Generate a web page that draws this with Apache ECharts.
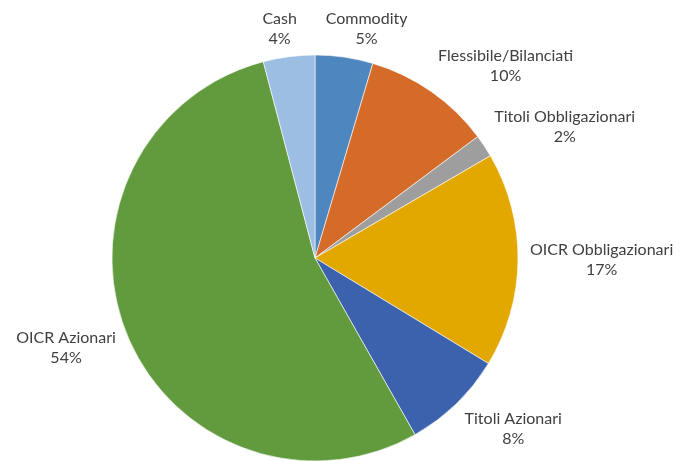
<!DOCTYPE html>
<html>
<head>
<meta charset="utf-8">
<script src="https://cdn.jsdelivr.net/npm/echarts@6/dist/echarts.min.js"></script>
<style>
html,body{margin:0;padding:0;background:#fff;}
#chart{width:681px;height:461px;}
</style>
</head>
<body>
<div id="chart"></div>
<script>
// Data (clockwise from 12 o'clock)
var categories = ['Commodity', 'Flessibile/Bilanciati', 'Titoli Obbligazionari', 'OICR Obbligazionari', 'Titoli Azionari', 'OICR Azionari', 'Cash'];
var values = [4.6, 10.2, 1.8, 17.1, 8.1, 54.1, 4.1];
var colors = ['#4E86BF', '#D56B28', '#9E9E9E', '#E3A800', '#3C62AD', '#629A3E', '#9DBEE3'];

var CX = 315, CY = 258, R = 203, GAP = 12;
var total = values.reduce(function (a, b) { return a + b; }, 0);
var midAngles = [];
(function () {
  var acc = 0;
  for (var i = 0; i < values.length; i++) {
    midAngles.push((acc + values[i] / 2) / total * 2 * Math.PI);
    acc += values[i];
  }
})();
function clamp(v) { return Math.max(-1, Math.min(1, v)); }

var chart = echarts.init(document.getElementById('chart'));
chart.setOption({
  animation: false,
  backgroundColor: '#ffffff',
  series: [{
    type: 'pie',
    center: [CX, CY],
    radius: R,
    startAngle: 90,
    clockwise: true,
    data: categories.map(function (c, i) {
      return { name: c, value: values[i], itemStyle: { color: colors[i] } };
    }),
    itemStyle: { borderColor: '#ffffff', borderWidth: 0.6 },
    emphasis: { disabled: true },
    label: {
      show: true,
      position: 'outside',
      formatter: function (p) { return p.name + '\n' + Math.round(p.percent) + '%'; },
      fontFamily: 'Lato',
      fontSize: 16,
      lineHeight: 20,
      color: '#404040',
      align: 'center',
      overflow: 'none'
    },
    labelLine: { show: false },
    labelLayout: function (p) {
      var a = midAngles[p.dataIndex];
      var s = Math.sin(a), c = -Math.cos(a);
      var ax = CX + (R + GAP) * s, ay = CY + (R + GAP) * c;
      var w = p.labelRect.width, h = p.labelRect.height;
      return {
        x: ax + clamp(s * 3.5) * w / 2,
        y: ay + clamp(c * 1.4) * (h / 2 - 4),
        align: 'center',
        verticalAlign: 'middle'
      };
    }
  }]
});
</script>
</body>
</html>
